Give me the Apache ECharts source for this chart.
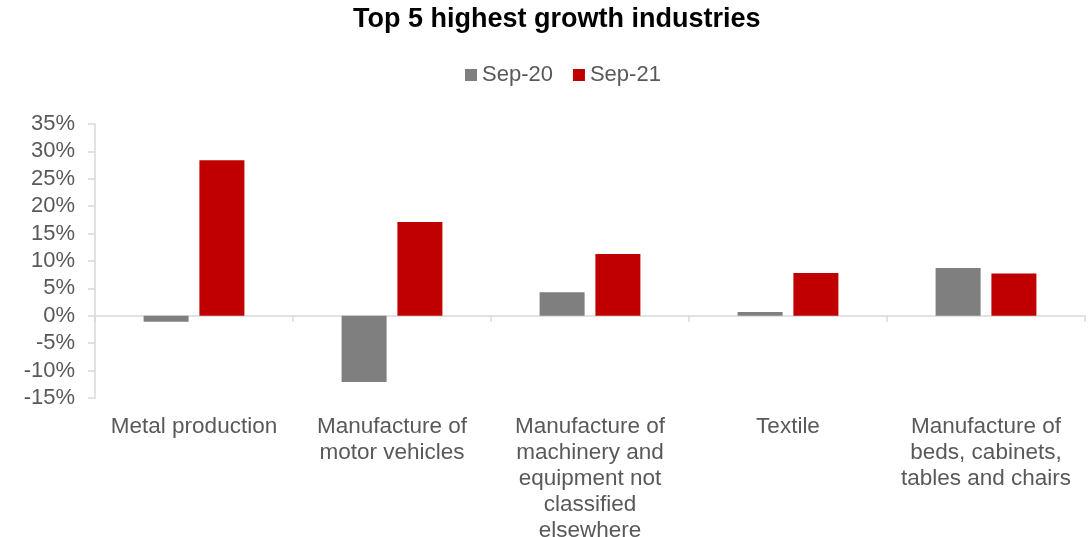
<!DOCTYPE html>
<html>
<head>
<meta charset="utf-8">
<style>
  html, body { margin: 0; padding: 0; background: #ffffff; }
  #chart { width: 1089px; height: 537px; }
</style>
<script src="https://cdn.jsdelivr.net/npm/echarts@6/dist/echarts.min.js"></script>
</head>
<body>
<div id="chart"></div>
<script>
// Industries (category axis), with manual line breaks for the wrapped labels
const categories = [
  'Metal production',
  'Manufacture of\nmotor vehicles',
  'Manufacture of\nmachinery and\nequipment not\nclassified\nelsewhere',
  'Textile',
  'Manufacture of\nbeds, cabinets,\ntables and chairs'
];

// Year-on-year growth, %
const sep20 = [-1.1, -12.1, 4.3, 0.7, 8.7];
const sep21 = [28.4, 17.1, 11.3, 7.8, 7.7];

const seriesNames = ['Sep-20', 'Sep-21'];

const FONT = '"Liberation Sans", Arial, sans-serif';
const TEXT = '#595959';
const AXIS = '#d9d9d9';

const chart = echarts.init(document.getElementById('chart'), null, { renderer: 'canvas' });

chart.setOption({
  animation: false,
  backgroundColor: '#ffffff',
  title: {
    text: 'Top 5 highest growth industries',
    left: 348,
    top: 1,
    textStyle: { fontFamily: FONT, fontSize: 27, fontWeight: 'bold', color: '#000000' }
  },
  legend: {
    data: seriesNames,
    top: 59,
    left: 460,
    itemWidth: 12,
    itemHeight: 12,
    itemGap: 20,
    icon: 'rect',
    textStyle: { fontFamily: FONT, fontSize: 22, color: TEXT }
  },
  grid: {
    left: 95, right: 4, top: 124, bottom: 139,
    containLabel: false,
    outerBoundsMode: 'none'
  },
  xAxis: [
    {
      // axis line drawn at zero with ticks between categories
      type: 'category',
      data: categories,
      position: 'bottom',
      axisLine: { onZero: true, lineStyle: { color: AXIS, width: 1.5 } },
      axisTick: { show: true, length: 6, lineStyle: { color: AXIS, width: 1.5 } },
      axisLabel: { show: false }
    },
    {
      // labels placed beneath the plot area
      type: 'category',
      data: categories,
      position: 'bottom',
      axisLine: { show: false, onZero: false },
      axisTick: { show: false },
      axisLabel: {
        show: true,
        interval: 0,
        margin: 16,
        fontFamily: FONT,
        fontSize: 22.5,
        lineHeight: 26,
        color: TEXT,
        align: 'center'
      }
    }
  ],
  yAxis: {
    type: 'value',
    min: -15,
    max: 35,
    interval: 5,
    splitLine: { show: false },
    axisLine: { show: true, lineStyle: { color: AXIS, width: 1.5 } },
    axisTick: { show: true, length: 7, lineStyle: { color: AXIS, width: 1.5 } },
    axisLabel: {
      formatter: '{value}%',
      fontFamily: FONT,
      fontSize: 22,
      color: TEXT,
      margin: 20
    }
  },
  series: [
    {
      name: seriesNames[0],
      type: 'bar',
      xAxisIndex: 0,
      data: sep20,
      barWidth: 45,
      barGap: '24%',
      itemStyle: { color: '#7f7f7f' }
    },
    {
      name: seriesNames[1],
      type: 'bar',
      xAxisIndex: 0,
      data: sep21,
      barWidth: 45,
      barGap: '24%',
      itemStyle: { color: '#c00000' }
    }
  ]
});
</script>
</body>
</html>
